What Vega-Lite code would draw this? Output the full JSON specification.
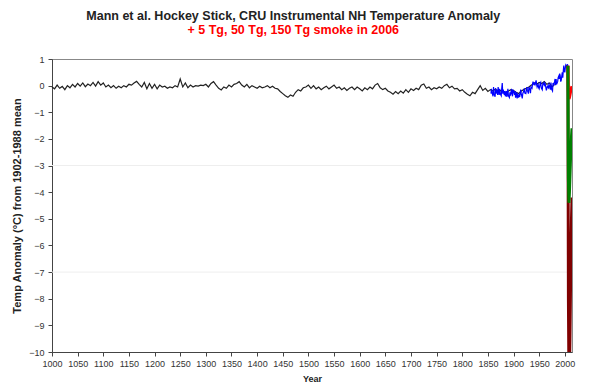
{
  "$schema": "https://vega.github.io/schema/vega-lite/v6.json",
  "width": 520,
  "height": 293,
  "autosize": {"type": "none"},
  "padding": {"left": 52, "top": 59, "right": 29, "bottom": 39},
  "background": "white",
  "config": {
    "view": {"stroke": "#888888", "strokeWidth": 1},
    "axis": {
      "labelFont": "Liberation Sans",
      "labelFontSize": 9,
      "labelColor": "#333333",
      "titleFont": "Liberation Sans",
      "titleColor": "#222222",
      "titleFontWeight": "bold",
      "domainColor": "#444444",
      "tickColor": "#444444",
      "tickSize": 4,
      "grid": false,
      "labelFlush": false
    }
  },
  "title": {
    "text": "Mann et al. Hockey Stick, CRU Instrumental NH Temperature Anomaly",
    "subtitle": "+ 5 Tg, 50 Tg, 150 Tg smoke in 2006",
    "font": "Liberation Sans",
    "fontSize": 12.5,
    "fontWeight": "bold",
    "color": "#222222",
    "subtitleFont": "Liberation Sans",
    "subtitleFontSize": 12.5,
    "subtitleFontWeight": "bold",
    "subtitleColor": "#ff0000",
    "subtitlePadding": 1.5,
    "anchor": "middle",
    "frame": "bounds",
    "offset": 19
  },
  "datasets": {
    "grid": [{"v": -3}, {"v": -7}],
    "mann": [
      {"year": 1000, "anomaly": -0.05}, {"year": 1005, "anomaly": -0.12}, {"year": 1010, "anomaly": 0.02}, {"year": 1015, "anomaly": -0.1},
      {"year": 1020, "anomaly": -0.03}, {"year": 1025, "anomaly": -0.15}, {"year": 1030, "anomaly": 0.0}, {"year": 1035, "anomaly": -0.08},
      {"year": 1040, "anomaly": 0.05}, {"year": 1045, "anomaly": -0.05}, {"year": 1050, "anomaly": 0.08}, {"year": 1055, "anomaly": -0.02},
      {"year": 1060, "anomaly": 0.1}, {"year": 1065, "anomaly": -0.04}, {"year": 1070, "anomaly": 0.06}, {"year": 1075, "anomaly": 0.0},
      {"year": 1080, "anomaly": 0.12}, {"year": 1085, "anomaly": -0.02}, {"year": 1090, "anomaly": 0.15}, {"year": 1095, "anomaly": 0.02},
      {"year": 1100, "anomaly": 0.1}, {"year": 1105, "anomaly": -0.05}, {"year": 1110, "anomaly": 0.02}, {"year": 1115, "anomaly": -0.08},
      {"year": 1120, "anomaly": 0.0}, {"year": 1125, "anomaly": -0.1}, {"year": 1130, "anomaly": -0.02}, {"year": 1135, "anomaly": -0.08},
      {"year": 1140, "anomaly": 0.0}, {"year": 1145, "anomaly": -0.05}, {"year": 1150, "anomaly": 0.05}, {"year": 1155, "anomaly": 0.02},
      {"year": 1160, "anomaly": 0.1}, {"year": 1165, "anomaly": 0.16}, {"year": 1170, "anomaly": 0.05}, {"year": 1175, "anomaly": -0.05},
      {"year": 1180, "anomaly": 0.12}, {"year": 1185, "anomaly": -0.12}, {"year": 1190, "anomaly": 0.08}, {"year": 1195, "anomaly": -0.1},
      {"year": 1200, "anomaly": 0.05}, {"year": 1205, "anomaly": -0.12}, {"year": 1210, "anomaly": 0.02}, {"year": 1215, "anomaly": -0.05},
      {"year": 1220, "anomaly": -0.02}, {"year": 1225, "anomaly": -0.1}, {"year": 1230, "anomaly": -0.05}, {"year": 1235, "anomaly": -0.08},
      {"year": 1240, "anomaly": 0.0}, {"year": 1245, "anomaly": -0.05}, {"year": 1250, "anomaly": 0.25}, {"year": 1255, "anomaly": -0.05},
      {"year": 1260, "anomaly": 0.1}, {"year": 1265, "anomaly": -0.08}, {"year": 1270, "anomaly": 0.02}, {"year": 1275, "anomaly": -0.05},
      {"year": 1280, "anomaly": 0.0}, {"year": 1285, "anomaly": -0.02}, {"year": 1290, "anomaly": 0.02}, {"year": 1295, "anomaly": 0.0},
      {"year": 1300, "anomaly": 0.05}, {"year": 1305, "anomaly": -0.05}, {"year": 1310, "anomaly": 0.08}, {"year": 1315, "anomaly": 0.15},
      {"year": 1320, "anomaly": 0.02}, {"year": 1325, "anomaly": -0.1}, {"year": 1330, "anomaly": -0.16}, {"year": 1335, "anomaly": -0.05},
      {"year": 1340, "anomaly": -0.1}, {"year": 1345, "anomaly": 0.02}, {"year": 1350, "anomaly": -0.05}, {"year": 1355, "anomaly": 0.05},
      {"year": 1360, "anomaly": 0.08}, {"year": 1365, "anomaly": 0.15}, {"year": 1370, "anomaly": 0.02}, {"year": 1375, "anomaly": -0.05},
      {"year": 1380, "anomaly": 0.05}, {"year": 1385, "anomaly": -0.08}, {"year": 1390, "anomaly": 0.0}, {"year": 1395, "anomaly": -0.05},
      {"year": 1400, "anomaly": -0.1}, {"year": 1405, "anomaly": -0.02}, {"year": 1410, "anomaly": -0.08}, {"year": 1415, "anomaly": -0.05},
      {"year": 1420, "anomaly": 0.0}, {"year": 1425, "anomaly": -0.08}, {"year": 1430, "anomaly": -0.02}, {"year": 1435, "anomaly": -0.1},
      {"year": 1440, "anomaly": -0.12}, {"year": 1445, "anomaly": -0.22}, {"year": 1450, "anomaly": -0.3}, {"year": 1455, "anomaly": -0.38},
      {"year": 1460, "anomaly": -0.44}, {"year": 1465, "anomaly": -0.35}, {"year": 1470, "anomaly": -0.4}, {"year": 1475, "anomaly": -0.25},
      {"year": 1480, "anomaly": -0.15}, {"year": 1485, "anomaly": -0.2}, {"year": 1490, "anomaly": -0.08}, {"year": 1495, "anomaly": -0.05},
      {"year": 1500, "anomaly": 0.02}, {"year": 1505, "anomaly": -0.1}, {"year": 1510, "anomaly": 0.0}, {"year": 1515, "anomaly": -0.12},
      {"year": 1520, "anomaly": -0.05}, {"year": 1525, "anomaly": -0.15}, {"year": 1530, "anomaly": -0.08}, {"year": 1535, "anomaly": -0.02},
      {"year": 1540, "anomaly": -0.12}, {"year": 1545, "anomaly": -0.05}, {"year": 1550, "anomaly": 0.02}, {"year": 1555, "anomaly": -0.1},
      {"year": 1560, "anomaly": -0.05}, {"year": 1565, "anomaly": -0.15}, {"year": 1570, "anomaly": -0.08}, {"year": 1575, "anomaly": -0.18},
      {"year": 1580, "anomaly": -0.1}, {"year": 1585, "anomaly": -0.05}, {"year": 1590, "anomaly": -0.15}, {"year": 1595, "anomaly": -0.05},
      {"year": 1600, "anomaly": -0.12}, {"year": 1605, "anomaly": -0.2}, {"year": 1610, "anomaly": -0.08}, {"year": 1615, "anomaly": -0.15},
      {"year": 1620, "anomaly": -0.05}, {"year": 1625, "anomaly": -0.12}, {"year": 1630, "anomaly": 0.02}, {"year": 1635, "anomaly": 0.08},
      {"year": 1640, "anomaly": -0.08}, {"year": 1645, "anomaly": -0.15}, {"year": 1650, "anomaly": -0.1}, {"year": 1655, "anomaly": -0.2},
      {"year": 1660, "anomaly": -0.25}, {"year": 1665, "anomaly": -0.32}, {"year": 1670, "anomaly": -0.22}, {"year": 1675, "anomaly": -0.3},
      {"year": 1680, "anomaly": -0.2}, {"year": 1685, "anomaly": -0.28}, {"year": 1690, "anomaly": -0.15}, {"year": 1695, "anomaly": -0.25},
      {"year": 1700, "anomaly": -0.12}, {"year": 1705, "anomaly": -0.18}, {"year": 1710, "anomaly": -0.1}, {"year": 1715, "anomaly": -0.15},
      {"year": 1720, "anomaly": 0.02}, {"year": 1725, "anomaly": 0.06}, {"year": 1730, "anomaly": -0.1}, {"year": 1735, "anomaly": -0.05},
      {"year": 1740, "anomaly": -0.15}, {"year": 1745, "anomaly": -0.08}, {"year": 1750, "anomaly": -0.12}, {"year": 1755, "anomaly": -0.05},
      {"year": 1760, "anomaly": -0.1}, {"year": 1765, "anomaly": 0.0}, {"year": 1770, "anomaly": 0.05}, {"year": 1775, "anomaly": -0.08},
      {"year": 1780, "anomaly": -0.02}, {"year": 1785, "anomaly": -0.12}, {"year": 1790, "anomaly": -0.1}, {"year": 1795, "anomaly": -0.2},
      {"year": 1800, "anomaly": -0.15}, {"year": 1805, "anomaly": -0.25}, {"year": 1810, "anomaly": -0.32}, {"year": 1815, "anomaly": -0.38},
      {"year": 1820, "anomaly": -0.25}, {"year": 1825, "anomaly": -0.3}, {"year": 1830, "anomaly": -0.15}, {"year": 1835, "anomaly": 0.0},
      {"year": 1840, "anomaly": -0.18}, {"year": 1845, "anomaly": -0.1}, {"year": 1850, "anomaly": -0.22}, {"year": 1855, "anomaly": -0.15},
      {"year": 1860, "anomaly": -0.2}, {"year": 1865, "anomaly": -0.12}, {"year": 1870, "anomaly": -0.25}, {"year": 1875, "anomaly": -0.18},
      {"year": 1880, "anomaly": -0.22}, {"year": 1885, "anomaly": -0.28}, {"year": 1890, "anomaly": -0.2}, {"year": 1895, "anomaly": -0.15},
      {"year": 1900, "anomaly": -0.18}, {"year": 1905, "anomaly": -0.25}, {"year": 1910, "anomaly": -0.3}, {"year": 1915, "anomaly": -0.2},
      {"year": 1920, "anomaly": -0.15}, {"year": 1925, "anomaly": -0.1}, {"year": 1930, "anomaly": -0.05}, {"year": 1935, "anomaly": 0.02},
      {"year": 1940, "anomaly": 0.1}, {"year": 1945, "anomaly": 0.05}, {"year": 1950, "anomaly": 0.12}, {"year": 1955, "anomaly": 0.08},
      {"year": 1960, "anomaly": 0.15}, {"year": 1965, "anomaly": 0.05}, {"year": 1970, "anomaly": 0.1}, {"year": 1975, "anomaly": -0.05},
      {"year": 1980, "anomaly": 0.05}
    ],
    "cru": [
      {"year": 1856, "anomaly": -0.3}, {"year": 1857, "anomaly": -0.12}, {"year": 1858, "anomaly": -0.25}, {"year": 1860, "anomaly": -0.4}, {"year": 1861, "anomaly": -0.05}, {"year": 1862, "anomaly": -0.3},
      {"year": 1864, "anomaly": -0.42}, {"year": 1865, "anomaly": -0.1}, {"year": 1866, "anomaly": -0.3}, {"year": 1868, "anomaly": -0.15}, {"year": 1869, "anomaly": -0.35}, {"year": 1870, "anomaly": -0.05},
      {"year": 1872, "anomaly": -0.35}, {"year": 1873, "anomaly": -0.12}, {"year": 1874, "anomaly": -0.3}, {"year": 1876, "anomaly": -0.38}, {"year": 1877, "anomaly": -0.1}, {"year": 1878, "anomaly": 0.1},
      {"year": 1879, "anomaly": -0.3}, {"year": 1880, "anomaly": -0.15}, {"year": 1882, "anomaly": -0.35}, {"year": 1883, "anomaly": -0.2}, {"year": 1884, "anomaly": -0.4}, {"year": 1886, "anomaly": -0.2},
      {"year": 1887, "anomaly": -0.42}, {"year": 1888, "anomaly": -0.3}, {"year": 1889, "anomaly": -0.12}, {"year": 1890, "anomaly": -0.38}, {"year": 1892, "anomaly": -0.45}, {"year": 1893, "anomaly": -0.25},
      {"year": 1894, "anomaly": -0.38}, {"year": 1896, "anomaly": -0.12}, {"year": 1897, "anomaly": -0.3}, {"year": 1898, "anomaly": -0.4}, {"year": 1899, "anomaly": -0.15}, {"year": 1900, "anomaly": -0.2},
      {"year": 1902, "anomaly": -0.35}, {"year": 1903, "anomaly": -0.2}, {"year": 1904, "anomaly": -0.45}, {"year": 1906, "anomaly": -0.25}, {"year": 1907, "anomaly": -0.48}, {"year": 1908, "anomaly": -0.35},
      {"year": 1910, "anomaly": -0.45}, {"year": 1911, "anomaly": -0.3}, {"year": 1912, "anomaly": -0.42}, {"year": 1914, "anomaly": -0.15}, {"year": 1915, "anomaly": -0.3}, {"year": 1917, "anomaly": -0.48},
      {"year": 1918, "anomaly": -0.3}, {"year": 1920, "anomaly": -0.2}, {"year": 1921, "anomaly": -0.1}, {"year": 1922, "anomaly": -0.28}, {"year": 1924, "anomaly": -0.3}, {"year": 1926, "anomaly": -0.05},
      {"year": 1927, "anomaly": -0.18}, {"year": 1929, "anomaly": -0.3}, {"year": 1930, "anomaly": -0.05}, {"year": 1932, "anomaly": -0.15}, {"year": 1933, "anomaly": -0.28}, {"year": 1934, "anomaly": -0.05},
      {"year": 1936, "anomaly": -0.1}, {"year": 1937, "anomaly": 0.05}, {"year": 1938, "anomaly": 0.15}, {"year": 1940, "anomaly": 0.02}, {"year": 1941, "anomaly": 0.12}, {"year": 1942, "anomaly": 0.05},
      {"year": 1944, "anomaly": 0.2}, {"year": 1945, "anomaly": 0.05}, {"year": 1946, "anomaly": -0.05}, {"year": 1948, "anomaly": 0.05}, {"year": 1949, "anomaly": -0.08}, {"year": 1950, "anomaly": -0.12},
      {"year": 1952, "anomaly": 0.08}, {"year": 1953, "anomaly": 0.12}, {"year": 1954, "anomaly": -0.08}, {"year": 1956, "anomaly": -0.15}, {"year": 1957, "anomaly": 0.05}, {"year": 1958, "anomaly": 0.1},
      {"year": 1960, "anomaly": 0.02}, {"year": 1961, "anomaly": 0.1}, {"year": 1962, "anomaly": 0.05}, {"year": 1964, "anomaly": -0.18}, {"year": 1965, "anomaly": -0.1}, {"year": 1966, "anomaly": -0.02},
      {"year": 1968, "anomaly": -0.08}, {"year": 1969, "anomaly": 0.05}, {"year": 1970, "anomaly": 0.0}, {"year": 1971, "anomaly": -0.1}, {"year": 1972, "anomaly": -0.15}, {"year": 1973, "anomaly": 0.12},
      {"year": 1974, "anomaly": -0.12}, {"year": 1976, "anomaly": -0.2}, {"year": 1977, "anomaly": 0.1}, {"year": 1978, "anomaly": 0.0}, {"year": 1980, "anomaly": 0.15}, {"year": 1981, "anomaly": 0.25},
      {"year": 1982, "anomaly": 0.02}, {"year": 1983, "anomaly": 0.25}, {"year": 1984, "anomaly": 0.05}, {"year": 1986, "anomaly": 0.15}, {"year": 1987, "anomaly": 0.3}, {"year": 1988, "anomaly": 0.35},
      {"year": 1989, "anomaly": 0.25}, {"year": 1990, "anomaly": 0.45}, {"year": 1991, "anomaly": 0.38}, {"year": 1992, "anomaly": 0.15}, {"year": 1993, "anomaly": 0.2}, {"year": 1994, "anomaly": 0.35},
      {"year": 1995, "anomaly": 0.5}, {"year": 1996, "anomaly": 0.3}, {"year": 1997, "anomaly": 0.55}, {"year": 1998, "anomaly": 0.75}, {"year": 1999, "anomaly": 0.55}, {"year": 2000, "anomaly": 0.5},
      {"year": 2001, "anomaly": 0.68}, {"year": 2002, "anomaly": 0.78}, {"year": 2003, "anomaly": 0.75}, {"year": 2004, "anomaly": 0.65}, {"year": 2005, "anomaly": 0.8}, {"year": 2006, "anomaly": 0.75}
    ],
    "tg150": [
      {"year": 2006, "anomaly": 0.75}, {"year": 2007, "anomaly": -8.0}, {"year": 2008, "anomaly": -10.8}, {"year": 2009, "anomaly": -10.8},
      {"year": 2010, "anomaly": -9.5}, {"year": 2011, "anomaly": -7.8}, {"year": 2012, "anomaly": -6.2}, {"year": 2013, "anomaly": -5.0},
      {"year": 2014, "anomaly": -4.2}
    ],
    "tg5": [
      {"year": 2006, "anomaly": 0.75}, {"year": 2007, "anomaly": -0.2}, {"year": 2008, "anomaly": -0.5}, {"year": 2009, "anomaly": -0.45},
      {"year": 2010, "anomaly": -0.35}, {"year": 2011, "anomaly": -0.25}, {"year": 2012, "anomaly": -0.15}, {"year": 2013, "anomaly": -0.08},
      {"year": 2014, "anomaly": -0.02}
    ],
    "tg50": [
      {"year": 2006, "anomaly": 0.75}, {"year": 2007, "anomaly": -3.5}, {"year": 2008, "anomaly": -4.4}, {"year": 2009, "anomaly": -4.0},
      {"year": 2010, "anomaly": -3.4}, {"year": 2011, "anomaly": -2.8}, {"year": 2012, "anomaly": -2.3}, {"year": 2013, "anomaly": -1.9},
      {"year": 2014, "anomaly": -1.6}
    ]
  },
  "encoding": {
    "x": {
      "field": "year",
      "type": "quantitative",
      "scale": {"domain": [1000, 2014], "nice": false, "zero": false},
      "axis": {
        "title": "Year",
        "titleFontSize": 9,
        "titlePadding": 6,
        "values": [1000, 1050, 1100, 1150, 1200, 1250, 1300, 1350, 1400, 1450, 1500, 1550, 1600, 1650, 1700, 1750, 1800, 1850, 1900, 1950, 2000],
        "format": "d",
        "labelOverlap": false,
        "labelPadding": 3
      }
    },
    "y": {
      "field": "anomaly",
      "type": "quantitative",
      "scale": {"domain": [-10, 1], "nice": false, "zero": false},
      "axis": {
        "title": "Temp Anomaly (°C) from 1902-1988 mean",
        "titleFontSize": 11,
        "titlePadding": 6,
        "values": [-10, -9, -8, -7, -6, -5, -4, -3, -2, -1, 0, 1],
        "format": "d",
        "labelPadding": 4
      }
    }
  },
  "layer": [
    {
      "data": {"name": "grid"},
      "mark": {"type": "rule", "color": "#eeeeee", "strokeWidth": 1},
      "encoding": {"x": null, "y": {"field": "v", "type": "quantitative"}}
    },
    {
      "data": {"name": "mann"},
      "mark": {"type": "line", "color": "#222222", "strokeWidth": 1.2}
    },
    {
      "data": {"name": "cru"},
      "mark": {"type": "line", "color": "#0000ff", "strokeWidth": 1.2}
    },
    {
      "data": {"name": "tg150"},
      "mark": {"type": "line", "color": "#800000", "strokeWidth": 3, "clip": true}
    },
    {
      "data": {"name": "tg5"},
      "mark": {"type": "line", "color": "#ff0000", "strokeWidth": 3, "clip": true}
    },
    {
      "data": {"name": "tg50"},
      "mark": {"type": "line", "color": "#008000", "strokeWidth": 3, "clip": true}
    }
  ]
}
